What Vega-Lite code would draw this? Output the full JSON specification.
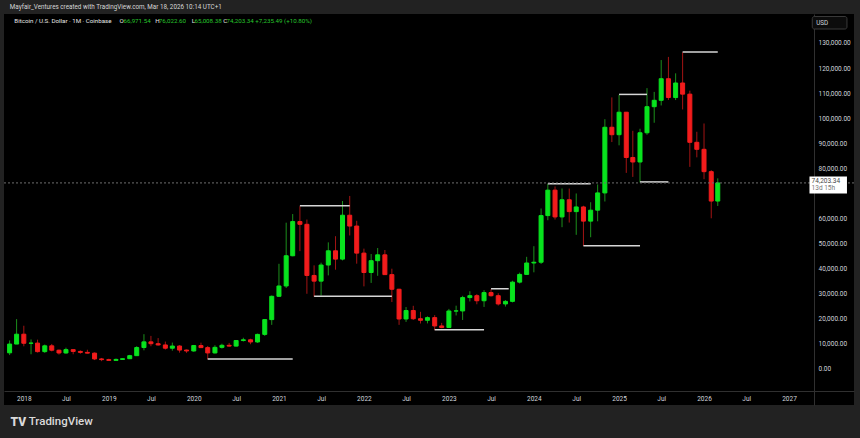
{
  "$schema": "https://vega.github.io/schema/vega-lite/v6.json",
  "width": 850,
  "height": 391,
  "autosize": {"type": "none"},
  "padding": {"left": 4, "top": 14, "right": 6, "bottom": 33},
  "background": "#222222",
  "config": {
    "view": {"fill": "#000000", "stroke": null},
    "font": "Roboto",
    "axis": {"labelFont": "Roboto", "labelFontSize": 6.5, "labelColor": "#d1d4dc", "ticks": false, "grid": false, "domainColor": "#303030", "domainWidth": 1, "labelOverlap": false, "labelBound": false, "labelFlush": false, "labelSeparation": 0},
    "text": {"font": "Roboto"}
  },
  "resolve": {"axis": {"x": "independent", "y": "independent"}},
  "datasets": {
    "candles": [
      {"date": "2017-11-01", "open": 6449, "high": 11395, "low": 5555, "close": 9947},
      {"date": "2017-12-01", "open": 9947, "high": 19891, "low": 10400, "close": 13880},
      {"date": "2018-01-01", "open": 13880, "high": 17250, "low": 9050, "close": 10265},
      {"date": "2018-02-01", "open": 10265, "high": 11789, "low": 5873, "close": 10326},
      {"date": "2018-03-01", "open": 10326, "high": 11700, "low": 6560, "close": 6926},
      {"date": "2018-04-01", "open": 6926, "high": 9760, "low": 6430, "close": 9241},
      {"date": "2018-05-01", "open": 9241, "high": 9990, "low": 7033, "close": 7494},
      {"date": "2018-06-01", "open": 7494, "high": 7760, "low": 5750, "close": 6391},
      {"date": "2018-07-01", "open": 6391, "high": 8507, "low": 6070, "close": 7726},
      {"date": "2018-08-01", "open": 7726, "high": 7760, "low": 5880, "close": 7015},
      {"date": "2018-09-01", "open": 7015, "high": 7410, "low": 6100, "close": 6626},
      {"date": "2018-10-01", "open": 6626, "high": 7680, "low": 6200, "close": 6318},
      {"date": "2018-11-01", "open": 6318, "high": 6600, "low": 3560, "close": 4017},
      {"date": "2018-12-01", "open": 4017, "high": 4400, "low": 3122, "close": 3742},
      {"date": "2019-01-01", "open": 3742, "high": 4100, "low": 3350, "close": 3437},
      {"date": "2019-02-01", "open": 3437, "high": 4200, "low": 3380, "close": 3816},
      {"date": "2019-03-01", "open": 3816, "high": 4140, "low": 3730, "close": 4103},
      {"date": "2019-04-01", "open": 4103, "high": 5640, "low": 4060, "close": 5320},
      {"date": "2019-05-01", "open": 5320, "high": 9100, "low": 5300, "close": 8555},
      {"date": "2019-06-01", "open": 8555, "high": 13880, "low": 7450, "close": 10817},
      {"date": "2019-07-01", "open": 10817, "high": 13200, "low": 9070, "close": 10085},
      {"date": "2019-08-01", "open": 10085, "high": 12330, "low": 9330, "close": 9593},
      {"date": "2019-09-01", "open": 9593, "high": 10940, "low": 7750, "close": 8293},
      {"date": "2019-10-01", "open": 8293, "high": 10540, "low": 7300, "close": 9153},
      {"date": "2019-11-01", "open": 9153, "high": 9510, "low": 6515, "close": 7554},
      {"date": "2019-12-01", "open": 7554, "high": 7750, "low": 6430, "close": 7194},
      {"date": "2020-01-01", "open": 7194, "high": 9590, "low": 6870, "close": 9352},
      {"date": "2020-02-01", "open": 9352, "high": 10500, "low": 8450, "close": 8525},
      {"date": "2020-03-01", "open": 8525, "high": 9190, "low": 3850, "close": 6410},
      {"date": "2020-04-01", "open": 6410, "high": 9460, "low": 6160, "close": 8630},
      {"date": "2020-05-01", "open": 8630, "high": 10080, "low": 8120, "close": 9450},
      {"date": "2020-06-01", "open": 9450, "high": 10400, "low": 8900, "close": 9140},
      {"date": "2020-07-01", "open": 9140, "high": 11440, "low": 8990, "close": 11350},
      {"date": "2020-08-01", "open": 11350, "high": 12470, "low": 10970, "close": 11650},
      {"date": "2020-09-01", "open": 11650, "high": 12070, "low": 9880, "close": 10780},
      {"date": "2020-10-01", "open": 10780, "high": 14100, "low": 10430, "close": 13800},
      {"date": "2020-11-01", "open": 13800, "high": 19915, "low": 13200, "close": 19700},
      {"date": "2020-12-01", "open": 19700, "high": 29300, "low": 17600, "close": 28990},
      {"date": "2021-01-01", "open": 28990, "high": 41950, "low": 28750, "close": 33110},
      {"date": "2021-02-01", "open": 33110, "high": 58350, "low": 32300, "close": 45160},
      {"date": "2021-03-01", "open": 45160, "high": 61790, "low": 44950, "close": 58790},
      {"date": "2021-04-01", "open": 58790, "high": 64900, "low": 47000, "close": 57700},
      {"date": "2021-05-01", "open": 57700, "high": 59600, "low": 30000, "close": 37300},
      {"date": "2021-06-01", "open": 37300, "high": 41330, "low": 28800, "close": 35040},
      {"date": "2021-07-01", "open": 35040, "high": 42400, "low": 29280, "close": 41460},
      {"date": "2021-08-01", "open": 41460, "high": 50500, "low": 37330, "close": 47130},
      {"date": "2021-09-01", "open": 47130, "high": 52950, "low": 39600, "close": 43820},
      {"date": "2021-10-01", "open": 43820, "high": 66999, "low": 43300, "close": 61320},
      {"date": "2021-11-01", "open": 61320, "high": 69000, "low": 53250, "close": 57000},
      {"date": "2021-12-01", "open": 57000, "high": 59100, "low": 42000, "close": 46210},
      {"date": "2022-01-01", "open": 46210, "high": 47990, "low": 32950, "close": 38480},
      {"date": "2022-02-01", "open": 38480, "high": 45850, "low": 34320, "close": 43190},
      {"date": "2022-03-01", "open": 43190, "high": 48240, "low": 37160, "close": 45530},
      {"date": "2022-04-01", "open": 45530, "high": 47450, "low": 37578, "close": 37640},
      {"date": "2022-05-01", "open": 37640, "high": 40000, "low": 26700, "close": 31800},
      {"date": "2022-06-01", "open": 31800, "high": 31990, "low": 17600, "close": 19940},
      {"date": "2022-07-01", "open": 19940, "high": 24700, "low": 18780, "close": 23310},
      {"date": "2022-08-01", "open": 23310, "high": 25200, "low": 19550, "close": 20050},
      {"date": "2022-09-01", "open": 20050, "high": 22800, "low": 18150, "close": 19430},
      {"date": "2022-10-01", "open": 19430, "high": 20990, "low": 18190, "close": 20490},
      {"date": "2022-11-01", "open": 20490, "high": 21480, "low": 15480, "close": 17170},
      {"date": "2022-12-01", "open": 17170, "high": 18390, "low": 16260, "close": 16540},
      {"date": "2023-01-01", "open": 16540, "high": 23960, "low": 16500, "close": 23130},
      {"date": "2023-02-01", "open": 23130, "high": 25250, "low": 21350, "close": 23150},
      {"date": "2023-03-01", "open": 23150, "high": 29190, "low": 19550, "close": 28480},
      {"date": "2023-04-01", "open": 28480, "high": 31000, "low": 26940, "close": 29240},
      {"date": "2023-05-01", "open": 29240, "high": 29840, "low": 25810, "close": 27220},
      {"date": "2023-06-01", "open": 27220, "high": 31440, "low": 24750, "close": 30470},
      {"date": "2023-07-01", "open": 30470, "high": 31800, "low": 28860, "close": 29230},
      {"date": "2023-08-01", "open": 29230, "high": 30200, "low": 25300, "close": 25940},
      {"date": "2023-09-01", "open": 25940, "high": 27490, "low": 24900, "close": 26970},
      {"date": "2023-10-01", "open": 26970, "high": 35200, "low": 26550, "close": 34640},
      {"date": "2023-11-01", "open": 34640, "high": 38420, "low": 34100, "close": 37720},
      {"date": "2023-12-01", "open": 37720, "high": 44730, "low": 37640, "close": 42270},
      {"date": "2024-01-01", "open": 42270, "high": 48970, "low": 38550, "close": 42580},
      {"date": "2024-02-01", "open": 42580, "high": 64000, "low": 41880, "close": 61180},
      {"date": "2024-03-01", "open": 61180, "high": 73800, "low": 59320, "close": 71330},
      {"date": "2024-04-01", "open": 71330, "high": 72800, "low": 59600, "close": 60640},
      {"date": "2024-05-01", "open": 60640, "high": 71980, "low": 56550, "close": 67480},
      {"date": "2024-06-01", "open": 67480, "high": 71950, "low": 58400, "close": 62760},
      {"date": "2024-07-01", "open": 62760, "high": 70000, "low": 53500, "close": 64620},
      {"date": "2024-08-01", "open": 64620, "high": 65100, "low": 49050, "close": 58970},
      {"date": "2024-09-01", "open": 58970, "high": 66500, "low": 52550, "close": 63330},
      {"date": "2024-10-01", "open": 63330, "high": 73600, "low": 58900, "close": 70220},
      {"date": "2024-11-01", "open": 70220, "high": 99600, "low": 66800, "close": 96400},
      {"date": "2024-12-01", "open": 96400, "high": 108300, "low": 90500, "close": 93430},
      {"date": "2025-01-01", "open": 93430, "high": 109300, "low": 89200, "close": 102400},
      {"date": "2025-02-01", "open": 102400, "high": 102500, "low": 78200, "close": 84350},
      {"date": "2025-03-01", "open": 84350, "high": 95000, "low": 76600, "close": 82550},
      {"date": "2025-04-01", "open": 82550, "high": 95800, "low": 74400, "close": 94200},
      {"date": "2025-05-01", "open": 94200, "high": 112000, "low": 93400, "close": 104600},
      {"date": "2025-06-01", "open": 104600, "high": 110500, "low": 98200, "close": 107150},
      {"date": "2025-07-01", "open": 107150, "high": 123200, "low": 105100, "close": 115750},
      {"date": "2025-08-01", "open": 115750, "high": 124450, "low": 107300, "close": 108250},
      {"date": "2025-09-01", "open": 108250, "high": 117900, "low": 107250, "close": 114050},
      {"date": "2025-10-01", "open": 114050, "high": 126270, "low": 103500, "close": 109600},
      {"date": "2025-11-01", "open": 109600, "high": 111000, "low": 80600, "close": 90400},
      {"date": "2025-12-01", "open": 90400, "high": 94600, "low": 84400, "close": 87600},
      {"date": "2026-01-01", "open": 87600, "high": 97900, "low": 75700, "close": 78700},
      {"date": "2026-02-01", "open": 78700, "high": 79300, "low": 60100, "close": 66971.54},
      {"date": "2026-03-01", "open": 66971.54, "high": 76022.6, "low": 65008.38, "close": 74203.34}
    ],
    "levels": [
      {"start": "2020-03-01", "end": "2021-03-01", "price": 3950},
      {"start": "2021-04-01", "end": "2021-11-01", "price": 65100},
      {"start": "2021-06-01", "end": "2022-05-01", "price": 29000},
      {"start": "2022-11-01", "end": "2023-06-01", "price": 15700},
      {"start": "2023-07-01", "end": "2023-09-15", "price": 32000},
      {"start": "2024-03-01", "end": "2024-09-01", "price": 73900},
      {"start": "2024-08-01", "end": "2025-04-01", "price": 49100},
      {"start": "2025-01-01", "end": "2025-05-01", "price": 109500},
      {"start": "2025-04-01", "end": "2025-08-01", "price": 74600},
      {"start": "2025-10-01", "end": "2026-03-01", "price": 126400}
    ],
    "one": [{}]
  },
  "layer": [
    {
      "data": {"name": "candles"},
      "mark": {"type": "rule", "strokeWidth": 1, "clip": true},
      "encoding": {
        "x": {"field": "date", "type": "temporal", "title": null,
          "scale": {"type": "utc", "domain": [{"year": 2017, "month": 10, "date": 29, "hours": 8, "utc": true}, {"year": 2027, "month": 9, "date": 15, "hours": 18, "utc": true}]},
          "axis": {"orient": "bottom", "offset": -14, "labelPadding": 7, "labelBaseline": "middle", "labelOverlap": false,
            "values": [
              {"year": 2018, "month": 1, "date": 1, "utc": true}, {"year": 2018, "month": 7, "date": 1, "utc": true},
              {"year": 2019, "month": 1, "date": 1, "utc": true}, {"year": 2019, "month": 7, "date": 1, "utc": true},
              {"year": 2020, "month": 1, "date": 1, "utc": true}, {"year": 2020, "month": 7, "date": 1, "utc": true},
              {"year": 2021, "month": 1, "date": 1, "utc": true}, {"year": 2021, "month": 7, "date": 1, "utc": true},
              {"year": 2022, "month": 1, "date": 1, "utc": true}, {"year": 2022, "month": 7, "date": 1, "utc": true},
              {"year": 2023, "month": 1, "date": 1, "utc": true}, {"year": 2023, "month": 7, "date": 1, "utc": true},
              {"year": 2024, "month": 1, "date": 1, "utc": true}, {"year": 2024, "month": 7, "date": 1, "utc": true},
              {"year": 2025, "month": 1, "date": 1, "utc": true}, {"year": 2025, "month": 7, "date": 1, "utc": true},
              {"year": 2026, "month": 1, "date": 1, "utc": true}, {"year": 2026, "month": 7, "date": 1, "utc": true},
              {"year": 2027, "month": 1, "date": 1, "utc": true}
            ],
            "labelExpr": "utcFormat(datum.value, '%m') == '01' ? utcFormat(datum.value, '%Y') : 'Jul'"}},
        "y": {"field": "low", "type": "quantitative", "title": null,
          "scale": {"domain": [-14356, 141564], "nice": false, "zero": false},
          "axis": {"orient": "right", "offset": -40, "labelPadding": 4, "labelAlign": "left", "labelBaseline": "middle", "format": ",.2f", "labelOverlap": false, "labelSeparation": 0,
            "values": [0, 10000, 20000, 30000, 40000, 50000, 60000, 80000, 90000, 100000, 110000, 120000, 130000]}},
        "y2": {"field": "high"},
        "color": {"condition": {"test": "datum.close >= datum.open", "value": "#1c8f1c"}, "value": "#a31414"}
      }
    },
    {
      "data": {"name": "candles"},
      "mark": {"type": "bar", "size": 4, "strokeWidth": 1, "clip": true},
      "encoding": {
        "x": {"field": "date", "type": "temporal", "title": null, "axis": null},
        "y": {"field": "open", "type": "quantitative", "title": null, "axis": null},
        "y2": {"field": "close"},
        "color": {"condition": {"test": "datum.close >= datum.open", "value": "#08e31e"}, "value": "#f21c1c"},
        "stroke": {"condition": {"test": "datum.close >= datum.open", "value": "#08e31e"}, "value": "#f21c1c"}
      }
    },
    {
      "data": {"name": "levels"},
      "mark": {"type": "rule", "strokeWidth": 1.5, "color": "#d6d6d6"},
      "encoding": {
        "x": {"field": "start", "type": "temporal", "title": null, "axis": null},
        "x2": {"field": "end"},
        "y": {"field": "price", "type": "quantitative", "title": null, "axis": null}
      }
    },
    {
      "data": {"name": "one"},
      "mark": {"type": "rule", "strokeWidth": 1, "strokeDash": [2, 2], "color": "#6e6e6e"},
      "encoding": {"y": {"datum": 74203.34, "type": "quantitative", "title": null, "axis": null}}
    },
    {
      "data": {"name": "one"},
      "mark": {"type": "rect", "color": "#ffffff"},
      "encoding": {
        "x": {"datum": {"year": 2027, "month": 3, "date": 30, "utc": true}, "type": "temporal", "title": null, "axis": null},
        "x2": {"datum": {"year": 2027, "month": 9, "date": 7, "utc": true}},
        "y": {"datum": 76760, "type": "quantitative", "title": null, "axis": null},
        "y2": {"datum": 69985}
      }
    },
    {
      "data": {"name": "one"},
      "mark": {"type": "text", "text": "74,203.34", "align": "left", "baseline": "middle", "fontSize": 6.5, "color": "#444444"},
      "encoding": {
        "x": {"datum": {"year": 2027, "month": 4, "date": 8, "utc": true}, "type": "temporal", "title": null, "axis": null},
        "y": {"datum": 74770, "type": "quantitative", "title": null, "axis": null}
      }
    },
    {
      "data": {"name": "one"},
      "mark": {"type": "text", "text": "13d 15h", "align": "left", "baseline": "middle", "fontSize": 6.5, "color": "#777777"},
      "encoding": {
        "x": {"datum": {"year": 2027, "month": 4, "date": 8, "utc": true}, "type": "temporal", "title": null, "axis": null},
        "y": {"datum": 71980, "type": "quantitative", "title": null, "axis": null}
      }
    },
    {
      "data": {"name": "one"},
      "mark": {"type": "rect", "fill": "#0c0c0c", "stroke": "#3a3a3a", "strokeWidth": 1, "cornerRadius": 2},
      "encoding": {
        "x": {"datum": {"year": 2027, "month": 4, "date": 11, "utc": true}, "type": "temporal", "title": null, "axis": null},
        "x2": {"datum": {"year": 2027, "month": 9, "date": 7, "utc": true}},
        "y": {"datum": 140560, "type": "quantitative", "title": null, "axis": null},
        "y2": {"datum": 135580}
      }
    },
    {
      "data": {"name": "one"},
      "mark": {"type": "text", "text": "USD", "align": "left", "baseline": "middle", "fontSize": 6.3, "color": "#d1d4dc"},
      "encoding": {
        "x": {"datum": {"year": 2027, "month": 4, "date": 28, "utc": true}, "type": "temporal", "title": null, "axis": null},
        "y": {"datum": 137975, "type": "quantitative", "title": null, "axis": null}
      }
    },
    {
      "data": {"name": "one"},
      "mark": {"type": "text", "text": "Mayfair_Ventures created with TradingView.com, Mar 18, 2026 10:14 UTC+1", "align": "left", "baseline": "middle", "fontSize": 6.3, "color": "#d6d6d6"},
      "encoding": {
        "x": {"datum": {"year": 2017, "month": 11, "date": 2, "utc": true}, "type": "temporal", "title": null, "axis": null},
        "y": {"datum": 144355, "type": "quantitative", "title": null, "axis": null}
      }
    },
    {
      "data": {"name": "one"},
      "mark": {"type": "text", "text": "Bitcoin / U.S. Dollar · 1M · Coinbase", "align": "left", "baseline": "middle", "fontSize": 6.2, "color": "#e6e6e6"},
      "encoding": {
        "x": {"datum": {"year": 2017, "month": 11, "date": 21, "utc": true}, "type": "temporal", "title": null, "axis": null},
        "y": {"datum": 138770, "type": "quantitative", "title": null, "axis": null}
      }
    },
    {
      "data": {"name": "one"},
      "mark": {"type": "text", "text": "O", "align": "left", "baseline": "middle", "fontSize": 6.2, "color": "#e6e6e6"},
      "encoding": {
        "x": {"datum": {"year": 2019, "month": 2, "date": 16, "utc": true}, "type": "temporal", "title": null, "axis": null},
        "y": {"datum": 138770, "type": "quantitative", "title": null, "axis": null}
      }
    },
    {
      "data": {"name": "one"},
      "mark": {"type": "text", "text": "66,971.54", "align": "left", "baseline": "middle", "fontSize": 6.2, "color": "#27c42c"},
      "encoding": {
        "x": {"datum": {"year": 2019, "month": 3, "date": 5, "utc": true}, "type": "temporal", "title": null, "axis": null},
        "y": {"datum": 138770, "type": "quantitative", "title": null, "axis": null}
      }
    },
    {
      "data": {"name": "one"},
      "mark": {"type": "text", "text": "H", "align": "left", "baseline": "middle", "fontSize": 6.2, "color": "#e6e6e6"},
      "encoding": {
        "x": {"datum": {"year": 2019, "month": 7, "date": 20, "utc": true}, "type": "temporal", "title": null, "axis": null},
        "y": {"datum": 138770, "type": "quantitative", "title": null, "axis": null}
      }
    },
    {
      "data": {"name": "one"},
      "mark": {"type": "text", "text": "76,022.60", "align": "left", "baseline": "middle", "fontSize": 6.2, "color": "#27c42c"},
      "encoding": {
        "x": {"datum": {"year": 2019, "month": 8, "date": 4, "utc": true}, "type": "temporal", "title": null, "axis": null},
        "y": {"datum": 138770, "type": "quantitative", "title": null, "axis": null}
      }
    },
    {
      "data": {"name": "one"},
      "mark": {"type": "text", "text": "L", "align": "left", "baseline": "middle", "fontSize": 6.2, "color": "#e6e6e6"},
      "encoding": {
        "x": {"datum": {"year": 2019, "month": 12, "date": 23, "utc": true}, "type": "temporal", "title": null, "axis": null},
        "y": {"datum": 138770, "type": "quantitative", "title": null, "axis": null}
      }
    },
    {
      "data": {"name": "one"},
      "mark": {"type": "text", "text": "65,008.38", "align": "left", "baseline": "middle", "fontSize": 6.2, "color": "#27c42c"},
      "encoding": {
        "x": {"datum": {"year": 2020, "month": 1, "date": 4, "utc": true}, "type": "temporal", "title": null, "axis": null},
        "y": {"datum": 138770, "type": "quantitative", "title": null, "axis": null}
      }
    },
    {
      "data": {"name": "one"},
      "mark": {"type": "text", "text": "C", "align": "left", "baseline": "middle", "fontSize": 6.2, "color": "#e6e6e6"},
      "encoding": {
        "x": {"datum": {"year": 2020, "month": 5, "date": 7, "utc": true}, "type": "temporal", "title": null, "axis": null},
        "y": {"datum": 138770, "type": "quantitative", "title": null, "axis": null}
      }
    },
    {
      "data": {"name": "one"},
      "mark": {"type": "text", "text": "74,203.34 +7,235.49 (+10.80%)", "align": "left", "baseline": "middle", "fontSize": 6.2, "color": "#27c42c"},
      "encoding": {
        "x": {"datum": {"year": 2020, "month": 5, "date": 21, "utc": true}, "type": "temporal", "title": null, "axis": null},
        "y": {"datum": 138770, "type": "quantitative", "title": null, "axis": null}
      }
    },
    {
      "data": {"name": "one"},
      "mark": {"type": "text", "text": "TV", "align": "left", "baseline": "middle", "fontSize": 12, "fontWeight": 900, "color": "#dadada"},
      "encoding": {
        "x": {"datum": {"year": 2017, "month": 11, "date": 5, "utc": true}, "type": "temporal", "title": null, "axis": null},
        "y": {"datum": -21135, "type": "quantitative", "title": null, "axis": null}
      }
    },
    {
      "data": {"name": "one"},
      "mark": {"type": "text", "text": "TradingView", "align": "left", "baseline": "middle", "fontSize": 11.5, "fontWeight": 500, "color": "#dadada"},
      "encoding": {
        "x": {"datum": {"year": 2018, "month": 1, "date": 22, "utc": true}, "type": "temporal", "title": null, "axis": null},
        "y": {"datum": -21135, "type": "quantitative", "title": null, "axis": null}
      }
    }
  ]
}
